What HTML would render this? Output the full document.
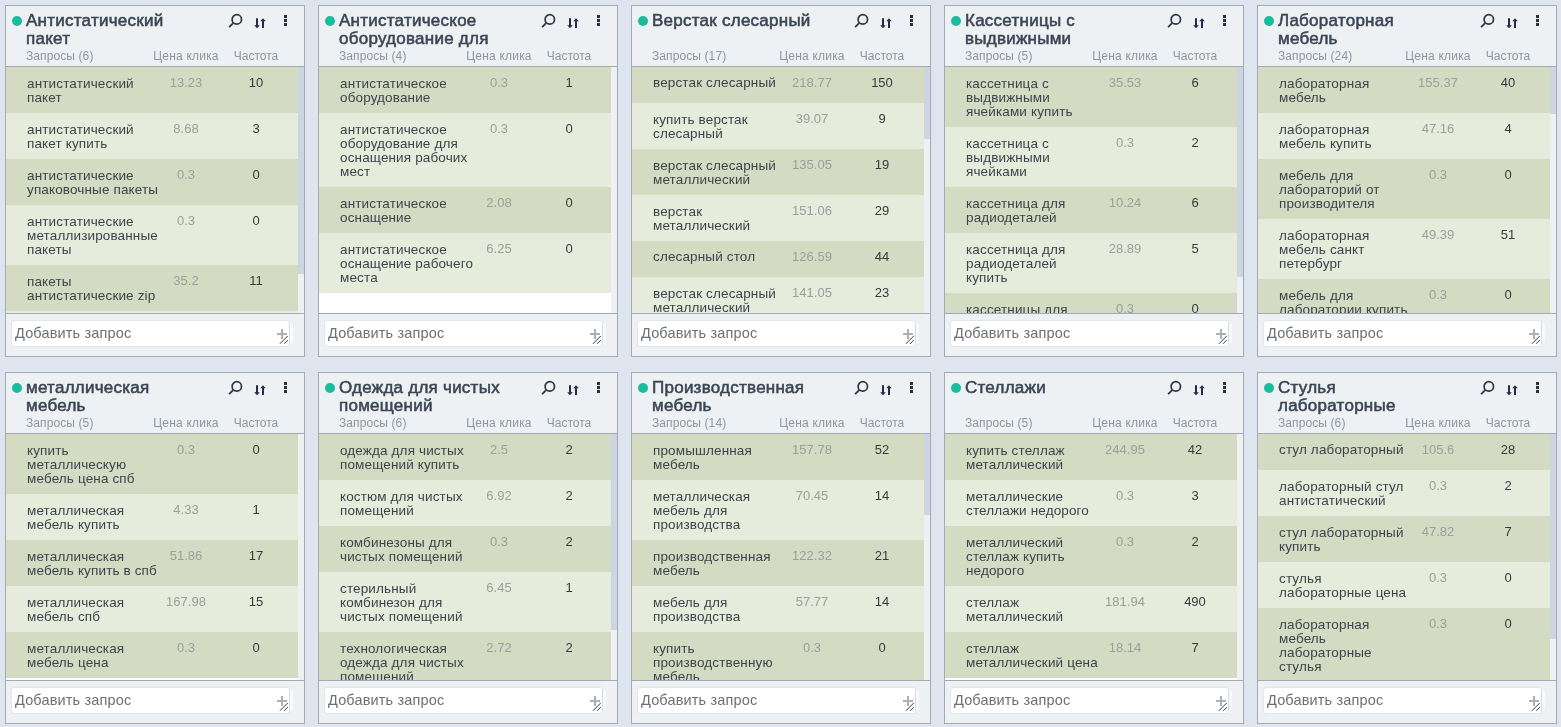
<!DOCTYPE html>
<html lang="ru">
<head>
<meta charset="utf-8">
<title>Группы запросов</title>
<style>
html,body{margin:0;padding:0}
body{width:1561px;height:727px;overflow:hidden;background:#dfe5ef;font-family:"Liberation Sans",sans-serif;position:relative}
.card{position:absolute;box-sizing:border-box;width:300px;height:352px;border:1px solid #a2aab6;background:#edf1f3}
.hd{position:absolute;left:0;top:0;width:298px;height:60px;border-bottom:1px solid #a3aaaf;background:#edf1f3}
.dot{position:absolute;left:6px;top:10px;width:10px;height:10px;border-radius:50%;background:#1abc9c}
.tt{position:absolute;left:20px;top:6px;margin:0;font-size:17px;letter-spacing:.25px;line-height:18px;font-weight:normal;color:#3b4654;-webkit-text-stroke:.55px #3b4654;white-space:nowrap}
.ic-s{position:absolute;left:221px;top:7px}
.ic-o{position:absolute;left:248px;top:12px}
.ic-k{position:absolute;left:278px;top:9px;width:3px}
.ic-k i{display:block;width:3px;height:2.7px;background:#2b2e3e;margin-bottom:1.4px}
.lb{position:absolute;top:43px;font-size:12px;line-height:14px;color:#8c96a2;white-space:nowrap}
.l1{left:20px;letter-spacing:.1px}
.l2{left:145px;width:70px;text-align:center;letter-spacing:.2px}
.l3{left:215px;width:70px;text-align:center}
.ls{position:absolute;left:0;top:61px;width:298px;height:246px;overflow:hidden;background:#fff;border-bottom:1px solid #a2aab6}
.rows{list-style:none;margin:0;padding:0;width:292px}
.rows li{position:relative;box-sizing:border-box;width:292px;background:#e6ecdc;overflow:hidden}
.rows li:nth-child(odd){background:#d3dcc3}
.q{position:absolute;left:21px;top:10px;font-size:13.5px;line-height:14px;letter-spacing:.14px;color:#3c444c;white-space:nowrap}
.p{position:absolute;left:145px;top:9px;width:70px;text-align:center;font-size:13px;line-height:14px;color:#9aa09a}
.f{position:absolute;left:215px;top:9px;width:70px;text-align:center;font-size:13px;line-height:14px;color:#353a3e}
.ls:after{content:"";position:absolute;left:292px;top:0;width:6px;height:246px;background:#eef1f3}
.th{position:absolute;z-index:2;left:292px;top:0;width:6px;background:#cdd5e3}
.ft{position:absolute;left:0;top:308px;width:298px;height:42px;background:#edf1f3}
.ta{position:absolute;left:6px;top:7px;width:277px;height:25px;background:#fff;border-radius:3px 2px 2px 3px;box-shadow:0 0 0 1px #e2e7ec}
.ta:after{content:"";position:absolute;left:277px;top:2px;width:3px;height:21px;background:#f7f9fa;border-left:1px solid #d6dbe0;border-radius:0 3px 3px 0}
.ph{position:absolute;left:3px;top:3px;font-size:14.5px;line-height:18px;letter-spacing:.15px;color:#6c7074;white-space:nowrap}
.pl{position:absolute;left:265px;top:8px;width:10px;height:10px}
.pl:before{content:"";position:absolute;left:0;top:4px;width:10px;height:2px;background:#a9b0b7}
.pl:after{content:"";position:absolute;left:4px;top:0;width:2px;height:10px;background:#a9b0b7}
.gr{position:absolute;left:267px;top:14px}
.rows li.one .q{top:9px}

</style>
</head>
<body>
<section class="card" style="left:5px;top:5px">
<header class="hd">
<span class="dot"></span>
<h2 class="tt">Антистатический<br>пакет</h2>
<svg class="ic-s" viewBox="0 0 16 16" width="16" height="16"><circle cx="9.8" cy="6.4" r="4.7" fill="none" stroke="#2f3542" stroke-width="1.7"/><path d="M6.4 9.8 L2.1 14.1" stroke="#2f3542" stroke-width="1.8" stroke-linecap="butt" fill="none"/></svg>
<svg class="ic-o" viewBox="0 0 14 12" width="14" height="12"><path d="M3 0.2V8.5" stroke="#2c2946" stroke-width="2" fill="none"/><path d="M0.2 7.2H5.8L3 10.2Z" fill="#2c2946"/><path d="M9 10V2" stroke="#2c2946" stroke-width="2" fill="none"/><path d="M6.2 3.2H11.8L9 0.2Z" fill="#2c2946"/></svg>
<span class="ic-k"><i></i><i></i><i></i></span>
<span class="lb l1">Запросы (6)</span><span class="lb l2">Цена клика</span><span class="lb l3">Частота</span>
</header>
<div class="ls">
<ul class="rows">
<li style="height:46px"><span class="q">антистатический<br>пакет</span><span class="p">13.23</span><span class="f">10</span></li>
<li style="height:46px"><span class="q">антистатический<br>пакет купить</span><span class="p">8.68</span><span class="f">3</span></li>
<li style="height:46px"><span class="q">антистатические<br>упаковочные пакеты</span><span class="p">0.3</span><span class="f">0</span></li>
<li style="height:60px"><span class="q">антистатические<br>металлизированные<br>пакеты</span><span class="p">0.3</span><span class="f">0</span></li>
<li style="height:46px"><span class="q">пакеты<br>антистатические zip</span><span class="p">35.2</span><span class="f">11</span></li>
<li style="height:46px"><span class="q">антистатический<br>пакет цена</span><span class="p">0.3</span><span class="f">0</span></li>
</ul>
<span class="th" style="height:207px"></span>
</div>
<footer class="ft"><div class="ta"><span class="ph">Добавить запрос</span><span class="pl"></span><svg class="gr" viewBox="0 0 10 10" width="10" height="10"><path d="M0.9 8.8L8.8 0.9M5.1 8.8L8.8 5.1" stroke="#3a3a3a" stroke-width="1" fill="none"/></svg></div></footer>
</section>
<section class="card" style="left:318px;top:5px">
<header class="hd">
<span class="dot"></span>
<h2 class="tt">Антистатическое<br>оборудование для</h2>
<svg class="ic-s" viewBox="0 0 16 16" width="16" height="16"><circle cx="9.8" cy="6.4" r="4.7" fill="none" stroke="#2f3542" stroke-width="1.7"/><path d="M6.4 9.8 L2.1 14.1" stroke="#2f3542" stroke-width="1.8" stroke-linecap="butt" fill="none"/></svg>
<svg class="ic-o" viewBox="0 0 14 12" width="14" height="12"><path d="M3 0.2V8.5" stroke="#2c2946" stroke-width="2" fill="none"/><path d="M0.2 7.2H5.8L3 10.2Z" fill="#2c2946"/><path d="M9 10V2" stroke="#2c2946" stroke-width="2" fill="none"/><path d="M6.2 3.2H11.8L9 0.2Z" fill="#2c2946"/></svg>
<span class="ic-k"><i></i><i></i><i></i></span>
<span class="lb l1">Запросы (4)</span><span class="lb l2">Цена клика</span><span class="lb l3">Частота</span>
</header>
<div class="ls">
<ul class="rows">
<li style="height:46px"><span class="q">антистатическое<br>оборудование</span><span class="p">0.3</span><span class="f">1</span></li>
<li style="height:74px"><span class="q">антистатическое<br>оборудование для<br>оснащения рабочих<br>мест</span><span class="p">0.3</span><span class="f">0</span></li>
<li style="height:46px"><span class="q">антистатическое<br>оснащение</span><span class="p">2.08</span><span class="f">0</span></li>
<li style="height:60px"><span class="q">антистатическое<br>оснащение рабочего<br>места</span><span class="p">6.25</span><span class="f">0</span></li>
</ul>
</div>
<footer class="ft"><div class="ta"><span class="ph">Добавить запрос</span><span class="pl"></span><svg class="gr" viewBox="0 0 10 10" width="10" height="10"><path d="M0.9 8.8L8.8 0.9M5.1 8.8L8.8 5.1" stroke="#3a3a3a" stroke-width="1" fill="none"/></svg></div></footer>
</section>
<section class="card" style="left:631px;top:5px">
<header class="hd">
<span class="dot"></span>
<h2 class="tt">Верстак слесарный</h2>
<svg class="ic-s" viewBox="0 0 16 16" width="16" height="16"><circle cx="9.8" cy="6.4" r="4.7" fill="none" stroke="#2f3542" stroke-width="1.7"/><path d="M6.4 9.8 L2.1 14.1" stroke="#2f3542" stroke-width="1.8" stroke-linecap="butt" fill="none"/></svg>
<svg class="ic-o" viewBox="0 0 14 12" width="14" height="12"><path d="M3 0.2V8.5" stroke="#2c2946" stroke-width="2" fill="none"/><path d="M0.2 7.2H5.8L3 10.2Z" fill="#2c2946"/><path d="M9 10V2" stroke="#2c2946" stroke-width="2" fill="none"/><path d="M6.2 3.2H11.8L9 0.2Z" fill="#2c2946"/></svg>
<span class="ic-k"><i></i><i></i><i></i></span>
<span class="lb l1">Запросы (17)</span><span class="lb l2">Цена клика</span><span class="lb l3">Частота</span>
</header>
<div class="ls">
<ul class="rows">
<li class=one style="height:36px"><span class="q">верстак слесарный</span><span class="p">218.77</span><span class="f">150</span></li>
<li style="height:46px"><span class="q">купить верстак<br>слесарный</span><span class="p">39.07</span><span class="f">9</span></li>
<li style="height:46px"><span class="q">верстак слесарный<br>металлический</span><span class="p">135.05</span><span class="f">19</span></li>
<li style="height:46px"><span class="q">верстак<br>металлический</span><span class="p">151.06</span><span class="f">29</span></li>
<li class=one style="height:36px"><span class="q">слесарный стол</span><span class="p">126.59</span><span class="f">44</span></li>
<li style="height:60px"><span class="q">верстак слесарный<br>металлический<br>купить</span><span class="p">141.05</span><span class="f">23</span></li>
</ul>
<span class="th" style="height:72px"></span>
</div>
<footer class="ft"><div class="ta"><span class="ph">Добавить запрос</span><span class="pl"></span><svg class="gr" viewBox="0 0 10 10" width="10" height="10"><path d="M0.9 8.8L8.8 0.9M5.1 8.8L8.8 5.1" stroke="#3a3a3a" stroke-width="1" fill="none"/></svg></div></footer>
</section>
<section class="card" style="left:944px;top:5px">
<header class="hd">
<span class="dot"></span>
<h2 class="tt">Кассетницы с<br>выдвижными</h2>
<svg class="ic-s" viewBox="0 0 16 16" width="16" height="16"><circle cx="9.8" cy="6.4" r="4.7" fill="none" stroke="#2f3542" stroke-width="1.7"/><path d="M6.4 9.8 L2.1 14.1" stroke="#2f3542" stroke-width="1.8" stroke-linecap="butt" fill="none"/></svg>
<svg class="ic-o" viewBox="0 0 14 12" width="14" height="12"><path d="M3 0.2V8.5" stroke="#2c2946" stroke-width="2" fill="none"/><path d="M0.2 7.2H5.8L3 10.2Z" fill="#2c2946"/><path d="M9 10V2" stroke="#2c2946" stroke-width="2" fill="none"/><path d="M6.2 3.2H11.8L9 0.2Z" fill="#2c2946"/></svg>
<span class="ic-k"><i></i><i></i><i></i></span>
<span class="lb l1">Запросы (5)</span><span class="lb l2">Цена клика</span><span class="lb l3">Частота</span>
</header>
<div class="ls">
<ul class="rows">
<li style="height:60px"><span class="q">кассетница с<br>выдвижными<br>ячейками купить</span><span class="p">35.53</span><span class="f">6</span></li>
<li style="height:60px"><span class="q">кассетница с<br>выдвижными<br>ячейками</span><span class="p">0.3</span><span class="f">2</span></li>
<li style="height:46px"><span class="q">кассетница для<br>радиодеталей</span><span class="p">10.24</span><span class="f">6</span></li>
<li style="height:60px"><span class="q">кассетница для<br>радиодеталей<br>купить</span><span class="p">28.89</span><span class="f">5</span></li>
<li style="height:60px"><span class="q">кассетницы для<br>радиодеталей с<br>выдвижными</span><span class="p">0.3</span><span class="f">0</span></li>
</ul>
<span class="th" style="height:210px"></span>
</div>
<footer class="ft"><div class="ta"><span class="ph">Добавить запрос</span><span class="pl"></span><svg class="gr" viewBox="0 0 10 10" width="10" height="10"><path d="M0.9 8.8L8.8 0.9M5.1 8.8L8.8 5.1" stroke="#3a3a3a" stroke-width="1" fill="none"/></svg></div></footer>
</section>
<section class="card" style="left:1257px;top:5px">
<header class="hd">
<span class="dot"></span>
<h2 class="tt">Лабораторная<br>мебель</h2>
<svg class="ic-s" viewBox="0 0 16 16" width="16" height="16"><circle cx="9.8" cy="6.4" r="4.7" fill="none" stroke="#2f3542" stroke-width="1.7"/><path d="M6.4 9.8 L2.1 14.1" stroke="#2f3542" stroke-width="1.8" stroke-linecap="butt" fill="none"/></svg>
<svg class="ic-o" viewBox="0 0 14 12" width="14" height="12"><path d="M3 0.2V8.5" stroke="#2c2946" stroke-width="2" fill="none"/><path d="M0.2 7.2H5.8L3 10.2Z" fill="#2c2946"/><path d="M9 10V2" stroke="#2c2946" stroke-width="2" fill="none"/><path d="M6.2 3.2H11.8L9 0.2Z" fill="#2c2946"/></svg>
<span class="ic-k"><i></i><i></i><i></i></span>
<span class="lb l1">Запросы (24)</span><span class="lb l2">Цена клика</span><span class="lb l3">Частота</span>
</header>
<div class="ls">
<ul class="rows">
<li style="height:46px"><span class="q">лабораторная<br>мебель</span><span class="p">155.37</span><span class="f">40</span></li>
<li style="height:46px"><span class="q">лабораторная<br>мебель купить</span><span class="p">47.16</span><span class="f">4</span></li>
<li style="height:60px"><span class="q">мебель для<br>лабораторий от<br>производителя</span><span class="p">0.3</span><span class="f">0</span></li>
<li style="height:60px"><span class="q">лабораторная<br>мебель санкт<br>петербург</span><span class="p">49.39</span><span class="f">51</span></li>
<li style="height:46px"><span class="q">мебель для<br>лаборатории купить</span><span class="p">0.3</span><span class="f">0</span></li>
</ul>
<span class="th" style="height:47px"></span>
</div>
<footer class="ft"><div class="ta"><span class="ph">Добавить запрос</span><span class="pl"></span><svg class="gr" viewBox="0 0 10 10" width="10" height="10"><path d="M0.9 8.8L8.8 0.9M5.1 8.8L8.8 5.1" stroke="#3a3a3a" stroke-width="1" fill="none"/></svg></div></footer>
</section>
<section class="card" style="left:5px;top:372px">
<header class="hd">
<span class="dot"></span>
<h2 class="tt">металлическая<br>мебель</h2>
<svg class="ic-s" viewBox="0 0 16 16" width="16" height="16"><circle cx="9.8" cy="6.4" r="4.7" fill="none" stroke="#2f3542" stroke-width="1.7"/><path d="M6.4 9.8 L2.1 14.1" stroke="#2f3542" stroke-width="1.8" stroke-linecap="butt" fill="none"/></svg>
<svg class="ic-o" viewBox="0 0 14 12" width="14" height="12"><path d="M3 0.2V8.5" stroke="#2c2946" stroke-width="2" fill="none"/><path d="M0.2 7.2H5.8L3 10.2Z" fill="#2c2946"/><path d="M9 10V2" stroke="#2c2946" stroke-width="2" fill="none"/><path d="M6.2 3.2H11.8L9 0.2Z" fill="#2c2946"/></svg>
<span class="ic-k"><i></i><i></i><i></i></span>
<span class="lb l1">Запросы (5)</span><span class="lb l2">Цена клика</span><span class="lb l3">Частота</span>
</header>
<div class="ls">
<ul class="rows">
<li style="height:60px"><span class="q">купить<br>металлическую<br>мебель цена спб</span><span class="p">0.3</span><span class="f">0</span></li>
<li style="height:46px"><span class="q">металлическая<br>мебель купить</span><span class="p">4.33</span><span class="f">1</span></li>
<li style="height:46px"><span class="q">металлическая<br>мебель купить в спб</span><span class="p">51.86</span><span class="f">17</span></li>
<li style="height:46px"><span class="q">металлическая<br>мебель спб</span><span class="p">167.98</span><span class="f">15</span></li>
<li style="height:46px"><span class="q">металлическая<br>мебель цена</span><span class="p">0.3</span><span class="f">0</span></li>
</ul>
</div>
<footer class="ft"><div class="ta"><span class="ph">Добавить запрос</span><span class="pl"></span><svg class="gr" viewBox="0 0 10 10" width="10" height="10"><path d="M0.9 8.8L8.8 0.9M5.1 8.8L8.8 5.1" stroke="#3a3a3a" stroke-width="1" fill="none"/></svg></div></footer>
</section>
<section class="card" style="left:318px;top:372px">
<header class="hd">
<span class="dot"></span>
<h2 class="tt">Одежда для чистых<br>помещений</h2>
<svg class="ic-s" viewBox="0 0 16 16" width="16" height="16"><circle cx="9.8" cy="6.4" r="4.7" fill="none" stroke="#2f3542" stroke-width="1.7"/><path d="M6.4 9.8 L2.1 14.1" stroke="#2f3542" stroke-width="1.8" stroke-linecap="butt" fill="none"/></svg>
<svg class="ic-o" viewBox="0 0 14 12" width="14" height="12"><path d="M3 0.2V8.5" stroke="#2c2946" stroke-width="2" fill="none"/><path d="M0.2 7.2H5.8L3 10.2Z" fill="#2c2946"/><path d="M9 10V2" stroke="#2c2946" stroke-width="2" fill="none"/><path d="M6.2 3.2H11.8L9 0.2Z" fill="#2c2946"/></svg>
<span class="ic-k"><i></i><i></i><i></i></span>
<span class="lb l1">Запросы (6)</span><span class="lb l2">Цена клика</span><span class="lb l3">Частота</span>
</header>
<div class="ls">
<ul class="rows">
<li style="height:46px"><span class="q">одежда для чистых<br>помещений купить</span><span class="p">2.5</span><span class="f">2</span></li>
<li style="height:46px"><span class="q">костюм для чистых<br>помещений</span><span class="p">6.92</span><span class="f">2</span></li>
<li style="height:46px"><span class="q">комбинезоны для<br>чистых помещений</span><span class="p">0.3</span><span class="f">2</span></li>
<li style="height:60px"><span class="q">стерильный<br>комбинезон для<br>чистых помещений</span><span class="p">6.45</span><span class="f">1</span></li>
<li style="height:60px"><span class="q">технологическая<br>одежда для чистых<br>помещений</span><span class="p">2.72</span><span class="f">2</span></li>
<li style="height:46px"><span class="q">одежда для чистых<br>помещений</span><span class="p">0.3</span><span class="f">0</span></li>
</ul>
<span class="th" style="height:196px"></span>
</div>
<footer class="ft"><div class="ta"><span class="ph">Добавить запрос</span><span class="pl"></span><svg class="gr" viewBox="0 0 10 10" width="10" height="10"><path d="M0.9 8.8L8.8 0.9M5.1 8.8L8.8 5.1" stroke="#3a3a3a" stroke-width="1" fill="none"/></svg></div></footer>
</section>
<section class="card" style="left:631px;top:372px">
<header class="hd">
<span class="dot"></span>
<h2 class="tt">Производственная<br>мебель</h2>
<svg class="ic-s" viewBox="0 0 16 16" width="16" height="16"><circle cx="9.8" cy="6.4" r="4.7" fill="none" stroke="#2f3542" stroke-width="1.7"/><path d="M6.4 9.8 L2.1 14.1" stroke="#2f3542" stroke-width="1.8" stroke-linecap="butt" fill="none"/></svg>
<svg class="ic-o" viewBox="0 0 14 12" width="14" height="12"><path d="M3 0.2V8.5" stroke="#2c2946" stroke-width="2" fill="none"/><path d="M0.2 7.2H5.8L3 10.2Z" fill="#2c2946"/><path d="M9 10V2" stroke="#2c2946" stroke-width="2" fill="none"/><path d="M6.2 3.2H11.8L9 0.2Z" fill="#2c2946"/></svg>
<span class="ic-k"><i></i><i></i><i></i></span>
<span class="lb l1">Запросы (14)</span><span class="lb l2">Цена клика</span><span class="lb l3">Частота</span>
</header>
<div class="ls">
<ul class="rows">
<li style="height:46px"><span class="q">промышленная<br>мебель</span><span class="p">157.78</span><span class="f">52</span></li>
<li style="height:60px"><span class="q">металлическая<br>мебель для<br>производства</span><span class="p">70.45</span><span class="f">14</span></li>
<li style="height:46px"><span class="q">производственная<br>мебель</span><span class="p">122.32</span><span class="f">21</span></li>
<li style="height:46px"><span class="q">мебель для<br>производства</span><span class="p">57.77</span><span class="f">14</span></li>
<li style="height:60px"><span class="q">купить<br>производственную<br>мебель</span><span class="p">0.3</span><span class="f">0</span></li>
</ul>
<span class="th" style="height:81px"></span>
</div>
<footer class="ft"><div class="ta"><span class="ph">Добавить запрос</span><span class="pl"></span><svg class="gr" viewBox="0 0 10 10" width="10" height="10"><path d="M0.9 8.8L8.8 0.9M5.1 8.8L8.8 5.1" stroke="#3a3a3a" stroke-width="1" fill="none"/></svg></div></footer>
</section>
<section class="card" style="left:944px;top:372px">
<header class="hd">
<span class="dot"></span>
<h2 class="tt">Стеллажи</h2>
<svg class="ic-s" viewBox="0 0 16 16" width="16" height="16"><circle cx="9.8" cy="6.4" r="4.7" fill="none" stroke="#2f3542" stroke-width="1.7"/><path d="M6.4 9.8 L2.1 14.1" stroke="#2f3542" stroke-width="1.8" stroke-linecap="butt" fill="none"/></svg>
<svg class="ic-o" viewBox="0 0 14 12" width="14" height="12"><path d="M3 0.2V8.5" stroke="#2c2946" stroke-width="2" fill="none"/><path d="M0.2 7.2H5.8L3 10.2Z" fill="#2c2946"/><path d="M9 10V2" stroke="#2c2946" stroke-width="2" fill="none"/><path d="M6.2 3.2H11.8L9 0.2Z" fill="#2c2946"/></svg>
<span class="ic-k"><i></i><i></i><i></i></span>
<span class="lb l1">Запросы (5)</span><span class="lb l2">Цена клика</span><span class="lb l3">Частота</span>
</header>
<div class="ls">
<ul class="rows">
<li style="height:46px"><span class="q">купить стеллаж<br>металлический</span><span class="p">244.95</span><span class="f">42</span></li>
<li style="height:46px"><span class="q">металлические<br>стеллажи недорого</span><span class="p">0.3</span><span class="f">3</span></li>
<li style="height:60px"><span class="q">металлический<br>стеллаж купить<br>недорого</span><span class="p">0.3</span><span class="f">2</span></li>
<li style="height:46px"><span class="q">стеллаж<br>металлический</span><span class="p">181.94</span><span class="f">490</span></li>
<li style="height:46px"><span class="q">стеллаж<br>металлический цена</span><span class="p">18.14</span><span class="f">7</span></li>
</ul>
</div>
<footer class="ft"><div class="ta"><span class="ph">Добавить запрос</span><span class="pl"></span><svg class="gr" viewBox="0 0 10 10" width="10" height="10"><path d="M0.9 8.8L8.8 0.9M5.1 8.8L8.8 5.1" stroke="#3a3a3a" stroke-width="1" fill="none"/></svg></div></footer>
</section>
<section class="card" style="left:1257px;top:372px">
<header class="hd">
<span class="dot"></span>
<h2 class="tt">Стулья<br>лабораторные</h2>
<svg class="ic-s" viewBox="0 0 16 16" width="16" height="16"><circle cx="9.8" cy="6.4" r="4.7" fill="none" stroke="#2f3542" stroke-width="1.7"/><path d="M6.4 9.8 L2.1 14.1" stroke="#2f3542" stroke-width="1.8" stroke-linecap="butt" fill="none"/></svg>
<svg class="ic-o" viewBox="0 0 14 12" width="14" height="12"><path d="M3 0.2V8.5" stroke="#2c2946" stroke-width="2" fill="none"/><path d="M0.2 7.2H5.8L3 10.2Z" fill="#2c2946"/><path d="M9 10V2" stroke="#2c2946" stroke-width="2" fill="none"/><path d="M6.2 3.2H11.8L9 0.2Z" fill="#2c2946"/></svg>
<span class="ic-k"><i></i><i></i><i></i></span>
<span class="lb l1">Запросы (6)</span><span class="lb l2">Цена клика</span><span class="lb l3">Частота</span>
</header>
<div class="ls">
<ul class="rows">
<li class=one style="height:36px"><span class="q">стул лабораторный</span><span class="p">105.6</span><span class="f">28</span></li>
<li style="height:46px"><span class="q">лабораторный стул<br>антистатический</span><span class="p">0.3</span><span class="f">2</span></li>
<li style="height:46px"><span class="q">стул лабораторный<br>купить</span><span class="p">47.82</span><span class="f">7</span></li>
<li style="height:46px"><span class="q">стулья<br>лабораторные цена</span><span class="p">0.3</span><span class="f">0</span></li>
<li style="height:74px"><span class="q">лабораторная<br>мебель<br>лабораторные<br>стулья</span><span class="p">0.3</span><span class="f">0</span></li>
<li style="height:46px"><span class="q">стул лабораторный<br>цена</span><span class="p">0.3</span><span class="f">0</span></li>
</ul>
<span class="th" style="height:205px"></span>
</div>
<footer class="ft"><div class="ta"><span class="ph">Добавить запрос</span><span class="pl"></span><svg class="gr" viewBox="0 0 10 10" width="10" height="10"><path d="M0.9 8.8L8.8 0.9M5.1 8.8L8.8 5.1" stroke="#3a3a3a" stroke-width="1" fill="none"/></svg></div></footer>
</section>
</body>
</html>
